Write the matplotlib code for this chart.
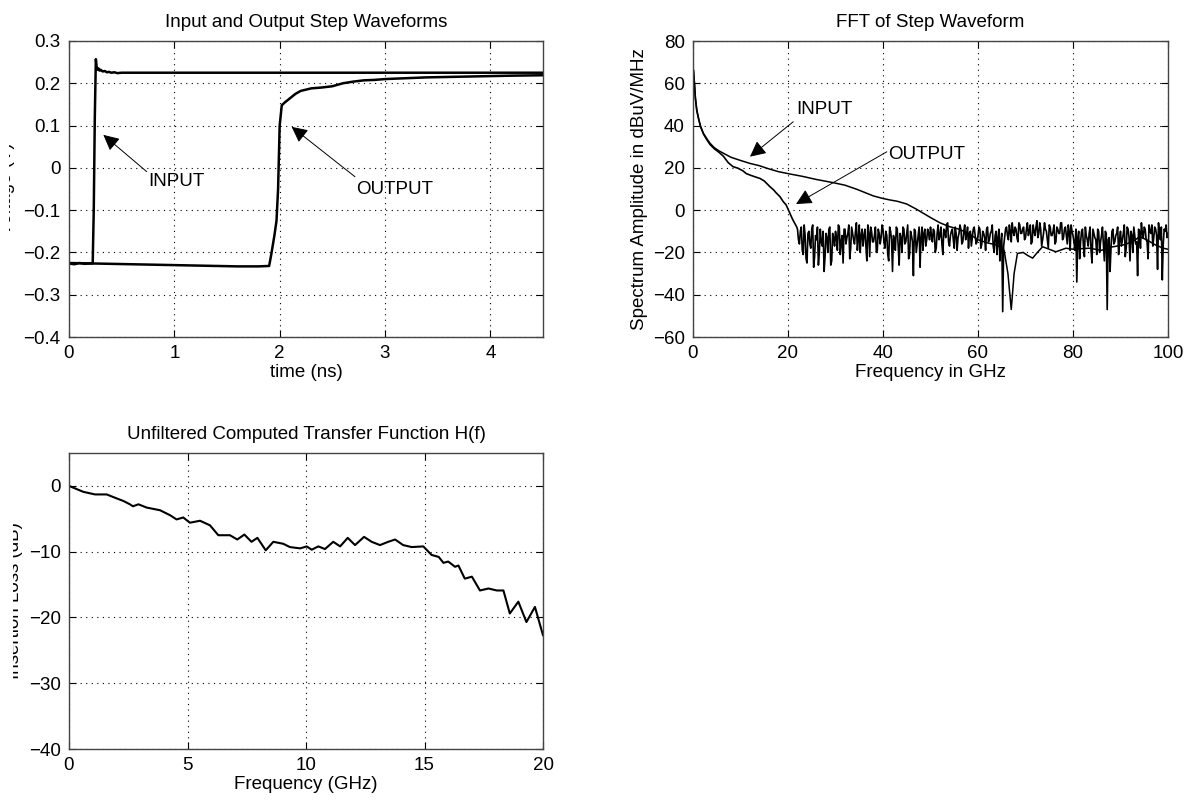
import numpy as np
import matplotlib
matplotlib.use("Agg")
import matplotlib.pyplot as plt
from matplotlib.transforms import Bbox

plt.rcParams['font.family'] = ['Liberation Sans', 'DejaVu Sans']

# ---------------- Data ----------------
# Top-left: step waveforms (time in ns, volts)
t_in = [0, 0.05, 0.1, 0.15, 0.2, 0.225, 0.235, 0.245, 0.255, 0.262, 0.27, 0.28, 0.29,
        0.30, 0.32, 0.34, 0.36, 0.38, 0.40, 0.43, 0.46, 0.50, 1.0, 2.0, 3.0, 4.0, 4.5]
v_in = [-0.226, -0.228, -0.225, -0.227, -0.226, -0.226, -0.10, 0.12, 0.257, 0.24, 0.232,
        0.235, 0.230, 0.232, 0.228, 0.229, 0.226, 0.227, 0.225, 0.226, 0.224, 0.225,
        0.225, 0.225, 0.225, 0.225, 0.225]
t_out = [0, 0.2, 0.4, 0.6, 0.8, 1.0, 1.2, 1.4, 1.6, 1.8, 1.9, 1.92, 1.95, 1.97, 1.985,
         2.0, 2.02, 2.05, 2.1, 2.15, 2.2, 2.3, 2.4, 2.5, 2.6, 2.7, 2.8, 2.9, 3.0, 3.2,
         3.4, 3.6, 3.8, 4.0, 4.2, 4.5]
v_out = [-0.225, -0.226, -0.227, -0.228, -0.229, -0.230, -0.231, -0.232, -0.233, -0.233,
         -0.232, -0.205, -0.16, -0.125, -0.05, 0.10, 0.148, 0.155, 0.165, 0.175, 0.182,
         0.188, 0.190, 0.193, 0.200, 0.204, 0.207, 0.208, 0.210, 0.212, 0.214, 0.215,
         0.216, 0.217, 0.218, 0.219]

# Top-right: FFT (GHz, dBuV/MHz)
f_in = [0.1, 0.3, 0.5, 0.8, 1.2, 1.6, 2.2, 3.0, 3.6, 4.5, 5.5, 6.4, 8, 10, 12, 14, 16, 18,
        20.4, 23, 26, 29.5, 32, 34.5, 36, 38, 40, 41.5, 43, 45, 47, 48.5, 50, 52, 54, 56,
        58, 60, 62, 64, 65.5, 66.3, 67, 67.6, 68.3, 69.5, 70.5, 71.5, 72.5, 73.6, 75,
        76.4, 78.5, 80, 83.4, 86, 88, 90.5, 92.5, 94, 95.5, 97.4, 99, 100]
db_in = [66, 60, 53, 47.4, 43, 39.5, 36.3, 33.5, 31.6, 29.5, 28, 26.9, 25, 23.5, 22.1, 21,
         19.5, 18.2, 17.1, 16, 14.5, 13.0, 11.8, 9.85, 8.5, 6.7, 5.5, 4.8, 4.2, 2.9, 0.5,
         -1.5, -3.5, -6, -7.8, -9, -11, -14, -15.5, -16.5, -19, -30, -47, -30, -20.5, -20,
         -21.5, -22.7, -20, -17.3, -18.5, -19.7, -18, -18.5, -18, -19, -17.5, -16.5, -15,
         -12.6, -14, -16.5, -18, -18.5]

f_out_smooth = [0.1, 0.3, 0.5, 0.8, 1.2, 1.6, 2.2, 3, 3.6, 4.5, 5.5, 6.4, 7.4, 8.4, 9.5,
                10.5, 11.2, 12, 13, 14.1, 15, 16.2, 17, 17.5, 18.3, 19, 19.6, 20.4, 21, 21.8]
db_out_smooth = [66, 60, 53, 47, 43, 39.5, 36, 33, 31, 29, 27.3, 25.5, 22.5, 20.6, 19.8,
                 18.6, 17.3, 16.6, 15.8, 15.0, 13.8, 11.1, 9.5, 8.2, 6.4, 4.0, 2.5, -1.5,
                 -4.5, -7.8]
# noise floor of OUTPUT at 22.0, 22.4, ... 100.0 GHz
db_out_noise_a = [
    -9, -16, -8, -21, -12, -25, -10, -18, -7, -22, -14, -26, -9, -17, -29, -11, -20, -8, -24, -13,
    -10, -19, -8, -15, -25, -9, -13, -7, -18, -11, -16, -6, -14, -20, -9, -12, -17, -7, -22, -10,
    -15, -8, -19, -11, -13,
    -9, -18, -12, -24, -10, -29, -14, -8, -17, -11, -20, -9, -15, -7, -21, -12, -31, -10, -16, -8,
    -13, -19, -9, -14, -11,
    -8, -15, -10, -18, -7, -12, -16, -9, -13, -6, -17, -10, -14, -8, -19, -11, -9, -15, -7, -12,
    -18, -10, -13, -8, -16,
    -12, -9, -16, -11, -19, -8, -14, -10, -17, -12, -21, -9, -15, -48, -13, -8, -14, -10, -6, -12,
    -9, -15, -7, -11, -8,
    -13, -6, -10, -16, -7, -12, -5, -11, -9, -14, -6, -10, -18, -8, -12, -7, -15, -9, -11, -6,
    -13, -8, -16, -10, -7,
    -12, -19, -34, -10, -15, -9, -22, -12, -17, -8, -25, -11, -14, -9, -20, -12, -16, -10, -47, -13,
    -18, -9, -15, -11, -21,
    -10, -14, -7, -18, -9, -24, -12, -8, -16, -31, -10, -6, -13, -9, -15, -7, -11, -17, -8, -12,
    -6, -14, -33, -9, -7, -11]
# noise floor of OUTPUT at 22.2, 22.6, ... 99.8 GHz
db_out_noise_b = [
    -14, -10, -19, -7, -23, -11, -16, -9, -27, -12, -8, -20, -15, -10, -22, -13, -9, -26, -11, -17,
    -13, -7, -21, -12, -9, -16, -11, -23, -8, -14, -10, -19, -7, -12, -17, -9, -24, -11, -8, -15,
    -12, -20, -9, -16, -7,
    -15, -10, -21, -8, -14, -12, -19, -9, -26, -13, -8, -16, -11, -23, -10, -15, -9, -20, -12, -27,
    -8, -11, -17, -9, -14,
    -12, -9, -20, -11, -14, -8, -21, -10, -7, -15, -12, -9, -18, -11, -13, -7, -16, -10, -14, -8,
    -11, -17, -9, -12, -15,
    -8, -18, -10, -13, -9, -15, -11, -7, -20, -10, -13, -24, -11, -17, -9, -12, -7, -15, -10, -8,
    -13, -6, -11, -9, -14,
    -9, -12, -7, -15, -10, -8, -13, -6, -17, -11, -9, -14, -7, -12, -10, -16, -8, -11, -6, -14,
    -9, -12, -7, -19, -10,
    -15, -9, -13, -23, -10, -17, -8, -14, -11, -19, -9, -13, -21, -10, -15, -8, -24, -11, -14, -29,
    -10, -16, -12, -8, -14,
    -17, -11, -22, -8, -13, -10, -20, -12, -15, -9, -18, -11, -8, -14, -23, -10, -7, -13, -9, -28,
    -11, -8, -16, -10, -13]

# Bottom-left: transfer function (GHz, dB)
f_h = [0, 0.6, 1.1, 1.59, 2.01, 2.3, 2.57, 2.7, 2.93, 3.28, 3.84, 4.26, 4.54, 4.82, 5.1,
       5.53, 5.95, 6.3, 6.79, 7.1, 7.4, 7.7, 7.95, 8.3, 8.62, 9.04, 9.32, 9.75, 10.03,
       10.24, 10.52, 10.8, 11.15, 11.44, 11.76, 12.07, 12.45, 12.77, 13.12, 13.47, 13.76,
       14.1, 14.46, 14.95, 15.3, 15.6, 15.8, 16.0, 16.29, 16.43, 16.7, 17.0, 17.34, 17.7,
       18.05, 18.33, 18.6, 18.96, 19.3, 19.66, 20.0]
h_db = [0, -0.9, -1.3, -1.3, -1.9, -2.3, -2.8, -3.1, -2.8, -3.3, -3.7, -4.45, -5.1, -4.8,
        -5.6, -5.3, -6.0, -7.5, -7.5, -8.15, -7.4, -8.5, -7.9, -9.8, -8.5, -8.8, -9.3, -9.5,
        -9.2, -9.7, -9.2, -9.6, -8.5, -9.2, -7.9, -9.0, -7.75, -8.5, -9.0, -8.5, -8.15, -9.0,
        -9.3, -9.2, -10.5, -10.8, -11.7, -11.5, -12.3, -12.1, -14.1, -13.8, -15.9, -15.6,
        -15.9, -15.9, -19.4, -17.6, -20.7, -18.4, -22.7]

tl_xticks = [0, 1, 2, 3, 4]
tl_yticks = [-0.4, -0.3, -0.2, -0.1, 0, 0.1, 0.2, 0.3]
tl_yticklabels = ['\u22120.4', '\u22120.3', '\u22120.2', '\u22120.1', '0', '0.1', '0.2', '0.3']
tr_xticks = [0, 20, 40, 60, 80, 100]
tr_yticks = [-60, -40, -20, 0, 20, 40, 60, 80]
bl_xticks = [0, 5, 10, 15, 20]
bl_yticks = [-40, -30, -20, -10, 0]

# ---------------- Figure ----------------
W, H = 1191, 801
fig = plt.figure(figsize=(W / 100, H / 100), dpi=100)

def px_axes(x0, y0, x1, y1):
    return fig.add_axes([x0 / W, 1 - y1 / H, (x1 - x0) / W, (y1 - y0) / H])

TICK_FS = 13.5
LAB_FS = 13.5

def style(ax):
    ax.grid(True, color='black', linestyle=(0, (1, 4)), linewidth=0.8)
    ax.tick_params(direction='in', top=True, right=True, length=5, width=0.8,
                   labelsize=TICK_FS, pad=6, colors='black')
    for s in ax.spines.values():
        s.set_color('#444444')
        s.set_linewidth(1.0)

ax1 = px_axes(69, 41, 543, 337)
ax2 = px_axes(693, 41, 1168, 337)
ax3 = px_axes(69, 453, 543, 749)

# Top-left
ax1.plot(t_in, v_in, color='black', lw=1.8)
ax1.plot(t_out, v_out, color='black', lw=1.8)
ax1.set_xlim(0, 4.5)
ax1.set_ylim(-0.4, 0.3)
ax1.set_xticks(tl_xticks)
ax1.set_yticks(tl_yticks)
ax1.set_yticklabels(tl_yticklabels)
ax1.set_title('Input and Output Step Waveforms', fontsize=LAB_FS, pad=10)
ax1.set_xlabel('time (ns)', fontsize=LAB_FS, labelpad=1)
style(ax1)
arrow = dict(arrowstyle='-|>', color='black', lw=0.7, mutation_scale=24,
             shrinkA=0, shrinkB=0)
ax1.annotate('', xy=(0.326, 0.078), xytext=(0.738, -0.009), arrowprops=arrow)
ax1.text(0.75, -0.033, 'INPUT', fontsize=LAB_FS, va='center', ha='left')
ax1.annotate('', xy=(2.114, 0.097), xytext=(2.715, -0.021), arrowprops=arrow)
ax1.text(2.73, -0.052, 'OUTPUT', fontsize=LAB_FS, va='center', ha='left')

# Top-right
f_a = [22 + 0.4 * i for i in range(len(db_out_noise_a))]
f_b = [22.2 + 0.4 * i for i in range(len(db_out_noise_b))]
f_noise = np.array(f_a + f_b)
d_noise = np.array(db_out_noise_a + db_out_noise_b)
order = np.argsort(f_noise)
ax2.plot(f_in, db_in, color='black', lw=1.1)
ax2.plot(np.concatenate([f_out_smooth, f_noise[order]]),
         np.concatenate([db_out_smooth, d_noise[order]]),
         color='black', lw=1.2)
ax2.set_xlim(0, 100)
ax2.set_ylim(-60, 80)
ax2.set_xticks(tr_xticks)
ax2.set_yticks(tr_yticks)
ax2.set_title('FFT of Step Waveform', fontsize=LAB_FS, pad=10)
ax2.set_xlabel('Frequency in GHz', fontsize=LAB_FS, labelpad=1)
ax2.set_ylabel('Spectrum Amplitude in dBuV/MHz', fontsize=LAB_FS, labelpad=3)
style(ax2)
ax2.annotate('', xy=(12.0, 25.3), xytext=(21.1, 41.8), arrowprops=arrow)
ax2.text(21.7, 47.8, 'INPUT', fontsize=LAB_FS, va='center', ha='left')
ax2.annotate('', xy=(21.7, 2.9), xytext=(40.8, 27.6), arrowprops=arrow)
ax2.text(41.1, 26.5, 'OUTPUT', fontsize=LAB_FS, va='center', ha='left')

# Bottom-left
ax3.plot(f_h, h_db, color='black', lw=1.5)
ax3.set_xlim(0, 20)
ax3.set_ylim(-40, 5)
ax3.set_xticks(bl_xticks)
ax3.set_yticks(bl_yticks)
ax3.set_title('Unfiltered Computed Transfer Function H(f)', fontsize=LAB_FS, pad=10)
ax3.set_xlabel('Frequency (GHz)', fontsize=LAB_FS, labelpad=1)
style(ax3)

# Partially clipped y labels on the left edge
t1 = fig.text(15 / W, 1 - 189 / H, 'Voltage (V)', rotation=90, ha='right', va='center',
              fontsize=LAB_FS)
t1.set_clip_box(Bbox([[9, 0], [W, H]]))
t3 = fig.text(23 / W, 1 - 601 / H, 'Insertion Loss (dB)', rotation=90, ha='right',
              va='center', fontsize=LAB_FS)
t3.set_clip_box(Bbox([[13, 0], [W, H]]))

fig.savefig('out.png', dpi=100)
